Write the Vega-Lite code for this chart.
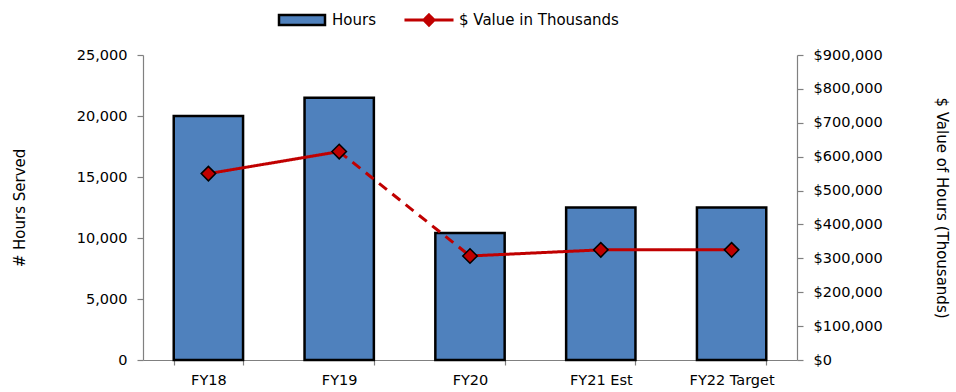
{
  "$schema": "https://vega.github.io/schema/vega-lite/v6.json",
  "width": 654,
  "height": 305,
  "autosize": {"type": "none"},
  "padding": {"left": 143, "top": 55, "right": 159, "bottom": 32},
  "background": "white",
  "config": {
    "view": {"stroke": null},
    "font": "DejaVu Sans",
    "axis": {
      "labelFont": "DejaVu Sans",
      "labelFontSize": 14.5,
      "labelColor": "#000000",
      "titleFont": "DejaVu Sans",
      "titleFontSize": 15,
      "titleFontWeight": "normal",
      "titleColor": "#000000",
      "domainColor": "#808080",
      "domainWidth": 1.2,
      "tickColor": "#808080",
      "tickWidth": 1.2,
      "grid": false
    },
    "legend": {
      "labelFont": "DejaVu Sans",
      "labelFontSize": 15,
      "labelColor": "#000000"
    }
  },
  "datasets": {
    "main": [
      {"year": "FY18", "hours": 20000, "value": 550000},
      {"year": "FY19", "hours": 21500, "value": 615000},
      {"year": "FY20", "hours": 10400, "value": 307000},
      {"year": "FY21 Est", "hours": 12500, "value": 325000},
      {"year": "FY22 Target", "hours": 12500, "value": 325000}
    ],
    "segments": [
      {"year": "FY18", "value": 550000, "seg": "a", "style": "solid"},
      {"year": "FY19", "value": 615000, "seg": "a", "style": "solid"},
      {"year": "FY19", "value": 615000, "seg": "b", "style": "dashed"},
      {"year": "FY20", "value": 307000, "seg": "b", "style": "dashed"},
      {"year": "FY20", "value": 307000, "seg": "c", "style": "solid"},
      {"year": "FY21 Est", "value": 325000, "seg": "c", "style": "solid"},
      {"year": "FY22 Target", "value": 325000, "seg": "c", "style": "solid"}
    ]
  },
  "encoding": {
    "x": {
      "field": "year",
      "type": "nominal",
      "sort": null,
      "scale": {"paddingInner": 0.47, "paddingOuter": 0.235},
      "axis": {
        "title": null,
        "labelAngle": 0,
        "tickBand": "extent",
        "tickSize": 5,
        "labelPadding": 8
      }
    }
  },
  "layer": [
    {
      "data": {"name": "main"},
      "mark": {"type": "bar", "stroke": "#000000", "strokeWidth": 2.5},
      "encoding": {
        "y": {
          "field": "hours",
          "type": "quantitative",
          "scale": {"domain": [0, 25000], "nice": false},
          "axis": {
            "title": "# Hours Served",
            "values": [0, 5000, 10000, 15000, 20000, 25000],
            "format": ",.0f",
            "tickSize": 6,
            "labelPadding": 10,
            "titlePadding": 49
          }
        },
        "fill": {
          "datum": "Hours",
          "scale": {"range": ["#4F81BD"]},
          "legend": {
            "title": null,
            "orient": "none",
            "legendX": 142,
            "legendY": -52,
            "padding": 0,
            "symbolType": "M-1.5,-0.33H1.5V0.33H-1.5Z",
            "symbolSize": 940,
            "symbolStrokeColor": "#000000",
            "symbolStrokeWidth": 2.5,
            "labelOffset": 13
          }
        }
      }
    },
    {
      "data": {"name": "segments"},
      "mark": {"type": "line", "strokeWidth": 3},
      "encoding": {
        "y": {
          "field": "value",
          "type": "quantitative",
          "scale": {"domain": [0, 900000], "nice": false},
          "axis": {
            "orient": "right",
            "title": "$ Value of Hours (Thousands)",
            "titleAngle": 90,
            "values": [0, 100000, 200000, 300000, 400000, 500000, 600000, 700000, 800000, 900000],
            "format": "$,.0f",
            "tickSize": 6,
            "labelPadding": 10,
            "titlePadding": 51
          }
        },
        "detail": {"field": "seg"},
        "strokeDash": {
          "field": "style",
          "type": "nominal",
          "scale": {"domain": ["solid", "dashed"], "range": [[1, 0], [10, 7]]},
          "legend": null
        },
        "stroke": {
          "datum": "$ Value in Thousands",
          "scale": {"range": ["#C00000"]},
          "legend": {
            "title": null,
            "orient": "none",
            "legendX": 269,
            "legendY": -52,
            "padding": 0,
            "symbolType": "M-1.6,0H1.6M0,-0.33L0.33,0L0,0.33L-0.33,0Z",
            "symbolSize": 940,
            "symbolStrokeWidth": 3,
            "symbolFillColor": "#C00000",
            "labelOffset": 13
          }
        }
      }
    },
    {
      "data": {"name": "main"},
      "mark": {"type": "point", "shape": "diamond", "filled": true, "fill": "#C00000", "stroke": "#000000", "strokeWidth": 1.5, "size": 210, "opacity": 1},
      "encoding": {
        "y": {"field": "value", "type": "quantitative", "scale": {"domain": [0, 900000], "nice": false}, "axis": null}
      }
    }
  ],
  "resolve": {"scale": {"y": "independent"}}
}
